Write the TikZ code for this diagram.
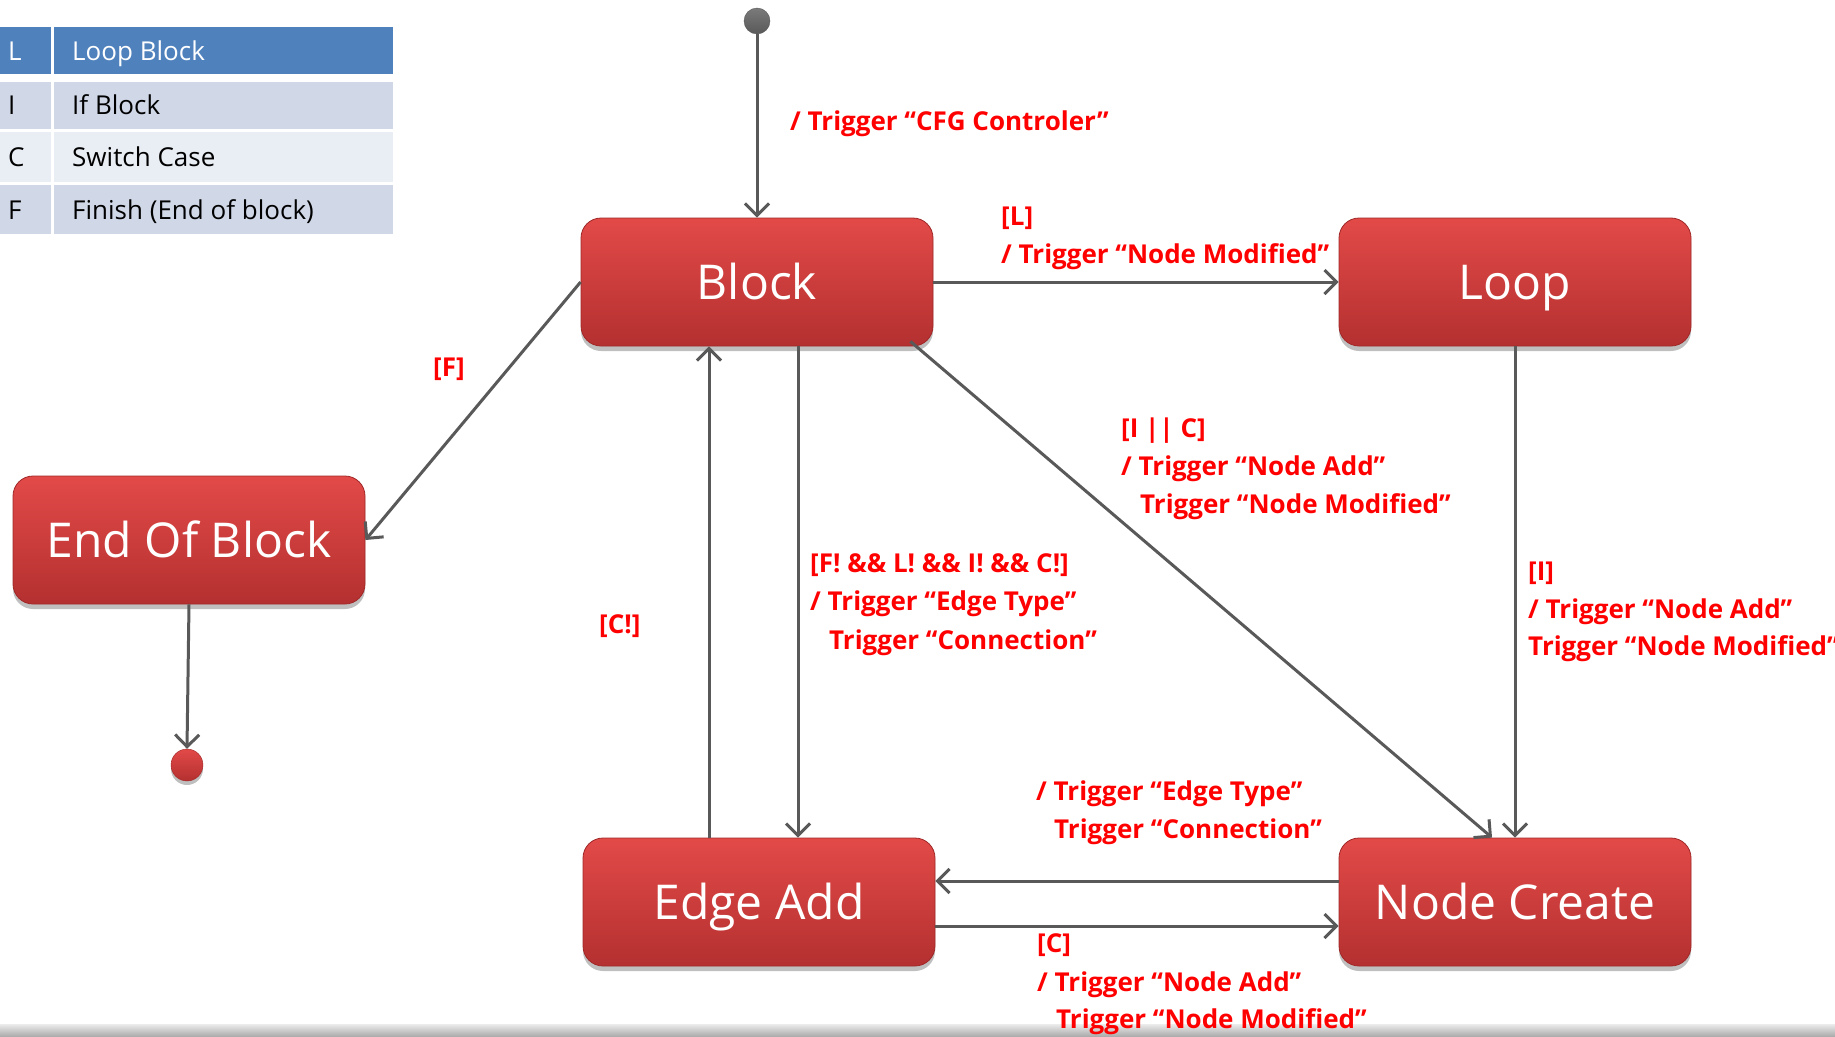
\documentclass[tikz,border=0pt]{standalone}
\usepackage{fontspec}
\setmainfont{Open Sans}
\usetikzlibrary{arrows.meta,shadows,calc}
\definecolor{lineg}{RGB}{89,89,89}
\definecolor{boxtop}{RGB}{226,74,72}
\definecolor{boxbot}{RGB}{180,48,48}
\definecolor{boxedge}{RGB}{160,40,40}
\definecolor{hdrblue}{RGB}{79,129,189}
\definecolor{rowdark}{RGB}{208,216,232}
\definecolor{rowlight}{RGB}{233,237,244}
\tikzset{
  state/.style={rectangle, rounded corners=20pt, minimum width=352pt, minimum height=128pt,
    top color=boxtop, bottom color=boxbot, draw=boxedge, line width=0.8pt,
    text=white, font=\fontsize{48}{56}\selectfont, text height=34.5pt, text depth=0pt,
    drop shadow={shadow xshift=0pt, shadow yshift=-5pt, opacity=0.25, fill=black}},
  lbl/.style={anchor=base west, inner sep=0pt, text=red, font=\bfseries\fontsize{26}{30}\selectfont},
  legtxt/.style={anchor=west, inner sep=0pt, font=\fontsize{26}{30}\selectfont,
    text height=18.7pt, text depth=0pt},
  arr/.style={draw=lineg, line width=3pt, -{Straight Barb[length=12pt,width=24pt]}}
}
\begin{document}
\begin{tikzpicture}[x=1pt,y=-1pt]
\useasboundingbox (0,0) rectangle (1835,1036);

% bottom bar
\shade[top color=gray!15, bottom color=gray!65] (0,1024) rectangle (1835,1036);

% legend table
\fill[hdrblue] (0,27) rectangle (51,74);
\fill[hdrblue] (54,27) rectangle (393,74);
\fill[rowdark] (0,82) rectangle (51,129);
\fill[rowdark] (54,82) rectangle (393,129);
\fill[rowlight] (0,132) rectangle (51,182);
\fill[rowlight] (54,132) rectangle (393,182);
\fill[rowdark] (0,185) rectangle (51,234);
\fill[rowdark] (54,185) rectangle (393,234);
\node[legtxt, text=white] (kL) at (8,51) {L};
\node[legtxt, text=white] (vL) at (72,51) {Loop Block};
\node[legtxt] (kI) at (8,105) {I};
\node[legtxt] (vI) at (72,105) {If Block};
\node[legtxt] (kC) at (8,157) {C};
\node[legtxt] (vC) at (72,157) {Switch Case};
\node[legtxt] (kF) at (8,210) {F};
\node[legtxt] (vF) at (72,210) {Finish (End of block)};

% states
\node[state] (blk) at (757,282) {Block};
\node[state] (loop) at (1515,282) {Loop};
\node[state] (eob) at (189,540) {End Of Block};
\node[state] (ea) at (759,902) {Edge Add};
\node[state] (nc) at (1515,902) {Node Create};

% initial and final points
\node[circle, minimum size=26pt, inner sep=0pt, top color=lineg!80, bottom color=lineg, draw=lineg] (start) at (757,21) {};
\node[circle, minimum size=32pt, inner sep=0pt, top color=boxtop, bottom color=boxbot, draw=boxedge,
  drop shadow={shadow xshift=0pt, shadow yshift=-4pt, opacity=0.25, fill=black}] (fin) at (187,765) {};

% transitions
\coordinate (upx) at (709,0);
\coordinate (dnx) at (798,0);
\draw[arr] (start) -- (blk.north);
\draw[arr] (blk.east) -- (loop.west);
\draw[arr] (blk.west) -- (eob.east);
\draw[arr] (eob.south) -- (fin.north);
\draw[arr] (upx |- ea.north) -- (upx |- blk.south);
\draw[arr] (dnx |- blk.south) -- (dnx |- ea.north);
\draw[arr] ([xshift=-23pt,yshift=5pt]blk.south east) -- ([xshift=-23pt]nc.north);
\draw[arr] (loop.south) -- (nc.north);
\draw[arr] ([yshift=21pt]nc.west) -- ([yshift=21pt]ea.east);
\draw[arr] ([yshift=-24pt]ea.east) -- ([yshift=-24pt]nc.west);

% transition labels
\node[lbl] (tcfg) at (790,130) {/ Trigger “CFG Controler”};
\node[lbl] (tl1) at (1001,225) {[L]};
\node[lbl] (tl2) at (1001,263) {/ Trigger “Node Modified”};
\node[lbl] (tf) at (433,376) {[F]};
\node[lbl] (tic1) at (1121,437) {[I || C]};
\node[lbl] (tic2) at (1121,475) {/ Trigger “Node Add”};
\node[lbl] (tic3) at (1140,513) {Trigger “Node Modified”};
\node[lbl] (tn1) at (810,572) {[F! \&\& L! \&\& I! \&\& C!]};
\node[lbl] (tn2) at (810,610) {/ Trigger “Edge Type”};
\node[lbl] (tn3) at (829,649) {Trigger “Connection”};
\node[lbl] (tcn) at (599,633) {[C!]};
\node[lbl] (ti1) at (1528,580) {[I]};
\node[lbl] (ti2) at (1528,618) {/ Trigger “Node Add”};
\node[lbl] (ti3) at (1528,655) {Trigger “Node Modified”};
\node[lbl] (te1) at (1036,800) {/ Trigger “Edge Type”};
\node[lbl] (te2) at (1054,838) {Trigger “Connection”};
\node[lbl] (tc1) at (1037,952) {[C]};
\node[lbl] (tc2) at (1037,991) {/ Trigger “Node Add”};
\node[lbl] (tc3) at (1056,1028) {Trigger “Node Modified”};
\end{tikzpicture}
\end{document}
